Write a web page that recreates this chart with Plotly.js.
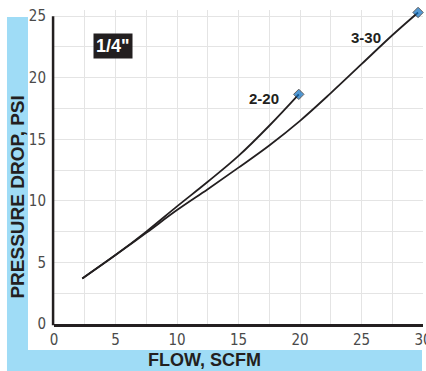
<!DOCTYPE html>
<html>
<head>
<meta charset="utf-8">
<script src="https://cdn.plot.ly/plotly-3.0.1.min.js"></script>
<style>html,body{margin:0;padding:0;background:#fff;}#chart{width:426px;height:371px;}</style>
</head>
<body>
<div id="chart"></div>
<script>
const flow220 = [2.3, 5, 7.5, 10, 12.5, 15, 17.5, 19.9];
const drop220 = [3.7, 5.6, 7.5, 9.55, 11.55, 13.65, 16.1, 18.65];
const flow330 = [2.3, 5, 7.5, 10, 12.5, 15, 17.5, 20, 22.5, 25, 27.5, 29.6];
const drop330 = [3.7, 5.6, 7.4, 9.25, 10.95, 12.7, 14.5, 16.5, 18.75, 21.1, 23.45, 25.3];
const seriesNames = ["2-20", "3-30"];
const xTitle = "FLOW, SCFM";
const yTitle = "PRESSURE DROP, PSI";
const sizeLabel = "1/4\"";

function endMarkers(n){ const s = new Array(n).fill(0); s[n-1] = 8; return s; }

const lineStyle = {color:'#231f20', width:1.8, shape:'spline', smoothing:1};
const traces = [
  {x:flow220, y:drop220, mode:'lines+markers', name:seriesNames[0], line:lineStyle,
   marker:{symbol:'diamond', color:'#0b6fc2', size:endMarkers(flow220.length)}, cliponaxis:false, hoverinfo:'skip'},
  {x:flow330, y:drop330, mode:'lines+markers', name:seriesNames[1], line:lineStyle,
   marker:{symbol:'diamond', color:'#0b6fc2', size:endMarkers(flow330.length)}, cliponaxis:false, hoverinfo:'skip'}
];

const tickFont = {family:'"Liberation Sans Narrow","DejaVu Sans Condensed",Arial,sans-serif', size:15, color:'#4a4a4a'};
const blue = '#9fdcf6';
const gridC = '#e4e4e4';

const layout = {
  width:426, height:371,
  margin:{l:54, r:3, t:10, b:47, pad:0},
  paper_bgcolor:'#fff', plot_bgcolor:'#fff',
  showlegend:false,
  xaxis:{range:[0,30], dtick:5, tick0:0, showgrid:true, gridcolor:gridC, gridwidth:1,
    minor:{dtick:2.5, showgrid:true, gridcolor:gridC, gridwidth:1},
    showline:true, linecolor:'#231f20', linewidth:2.5, zeroline:false, ticks:'', ticklabelstandoff:0,
    ticklabeloverflow:'allow', tickfont:tickFont, fixedrange:true},
  yaxis:{range:[0,25.5], tickvals:[0,5,10,15,20,25], showgrid:true, gridcolor:gridC, gridwidth:1,
    minor:{tickvals:[2.5,7.5,12.5,17.5,22.5], showgrid:true, gridcolor:gridC, gridwidth:1},
    showline:false, zeroline:false, ticks:'', ticklabelstandoff:7,
    tickfont:tickFont, fixedrange:true},
  shapes:[
    {type:'rect', xref:'paper', yref:'paper', x0:-0.1274, x1:-0.0705, y0:-0.1497, y1:0.978, fillcolor:blue, line:{width:0}, layer:'below'},
    {type:'rect', xref:'paper', yref:'paper', x0:-0.1274, x1:0.9973, y0:-0.1497, y1:-0.0828, fillcolor:blue, line:{width:0}, layer:'below'},
    {type:'line', xref:'paper', yref:'paper', x0:-0.0025, x1:-0.0025, y0:-0.004, y1:25/25.5, line:{color:'#231f20', width:2.5}}
  ],
  annotations:[
    {xref:'x', yref:'y', x:4.8, y:22.55, text:'<b>'+sizeLabel+'</b>', showarrow:false, bgcolor:'#231f20',
     font:{family:'"Liberation Sans",Arial,sans-serif', size:18, color:'#fff'}, borderpad:2},
    {xref:'x', yref:'y', x:17.1, y:18.3, text:'<b>'+seriesNames[0]+'</b>', showarrow:false,
     font:{family:'"Liberation Sans",Arial,sans-serif', size:15, color:'#231f20'}},
    {xref:'x', yref:'y', x:25.4, y:23.3, text:'<b>'+seriesNames[1]+'</b>', showarrow:false,
     font:{family:'"Liberation Sans",Arial,sans-serif', size:15, color:'#231f20'}},
    {xref:'paper', yref:'paper', x:-0.099, y:0.404, xanchor:'center', yanchor:'middle', text:'<b>'+yTitle+'</b>', textangle:-90, showarrow:false,
     font:{family:'"Liberation Sans",Arial,sans-serif', size:19, color:'#231f20'}},
    {xref:'paper', yref:'paper', x:0.409, y:-0.1146, xanchor:'center', yanchor:'middle', text:'<b>'+xTitle+'</b>', showarrow:false,
     font:{family:'"Liberation Sans",Arial,sans-serif', size:18, color:'#231f20'}}
  ]
};

Plotly.newPlot('chart', traces, layout, {staticPlot:true, displayModeBar:false});
</script>
</body>
</html>
